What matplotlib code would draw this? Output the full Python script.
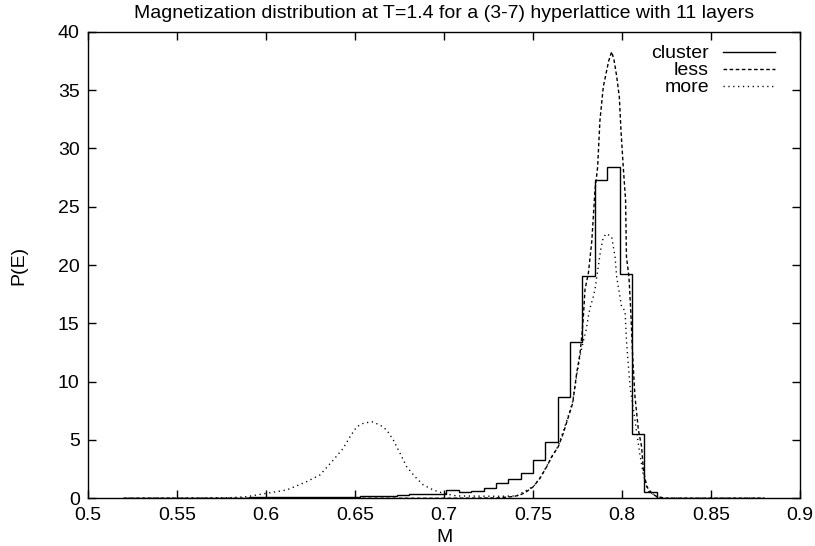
import matplotlib
matplotlib.use('Agg')
import matplotlib.pyplot as plt

plt.rcParams['font.family'] = ['Liberation Sans', 'DejaVu Sans']

# Cluster histogram: bin edges (k/144) and heights
cluster_edges = [0.52083, 0.52778, 0.53472, 0.54167, 0.54861, 0.55556, 0.56250, 0.56944,
                 0.57639, 0.58333, 0.59028, 0.59722, 0.60417, 0.61111, 0.61806, 0.62500,
                 0.63194, 0.63889, 0.64583, 0.65278, 0.65972, 0.66667, 0.67361, 0.68056,
                 0.68750, 0.69444, 0.70139, 0.70833, 0.71528, 0.72222, 0.72917, 0.73611,
                 0.74306, 0.75000, 0.75694, 0.76389, 0.77083, 0.77778, 0.78472, 0.79167,
                 0.79861, 0.80556, 0.81250, 0.81944, 0.88000]
cluster_vals = [0.01, 0.01, 0.02, 0.02, 0.03, 0.03, 0.04, 0.05, 0.05, 0.06, 0.07, 0.08,
                0.09, 0.10, 0.11, 0.12, 0.13, 0.14, 0.15, 0.17, 0.18, 0.20, 0.28, 0.37,
                0.37, 0.37, 0.71, 0.51, 0.60, 0.88, 1.32, 1.63, 2.14, 3.28, 4.86, 8.66,
                13.4, 19.1, 27.3, 28.4, 19.2, 5.49, 0.57, 0.0]

less_m = [0.52, 0.70, 0.73, 0.739, 0.7427, 0.7464, 0.7502, 0.7539, 0.7577, 0.7605, 0.7642,
          0.767, 0.7693, 0.7723, 0.7745, 0.7764, 0.7774, 0.7783, 0.7792, 0.7811, 0.783,
          0.7839, 0.7848, 0.7863, 0.7876, 0.7895, 0.7925, 0.7942, 0.7955, 0.797, 0.7985,
          0.7994, 0.8007, 0.802, 0.8025, 0.8039, 0.8048, 0.8054, 0.806, 0.8073, 0.8092,
          0.811, 0.812, 0.8139, 0.8167, 0.8195, 0.825, 0.88]
less_p = [0.0, 0.0, 0.03, 0.15, 0.28, 0.57, 1.0, 1.71, 2.71, 3.57, 4.43,
          5.57, 6.7, 8.15, 10.7, 12.4, 13.9, 15.6, 17.9, 19.3, 22.0,
          24.15, 26.4, 28.4, 32.4, 35.3, 37.5, 38.3, 37.6, 36.2, 34.4,
          31.6, 28.4, 25.6, 20.7, 19.0, 16.4, 14.4, 12.1, 8.7, 5.86,
          4.43, 2.43, 1.0, 0.43, 0.14, 0.0, 0.0]

more_m = [0.52, 0.56, 0.58, 0.5892, 0.6004, 0.6116, 0.6229, 0.6303, 0.6378, 0.6434, 0.6472,
          0.651, 0.6547, 0.6594, 0.664, 0.6678, 0.6715, 0.6753, 0.679, 0.6837, 0.6884,
          0.694, 0.6996, 0.7071, 0.73, 0.7408, 0.7483, 0.7502, 0.7539, 0.7577, 0.7642,
          0.7693, 0.7723, 0.7745, 0.7764, 0.7783, 0.7798, 0.7811, 0.782, 0.7839, 0.7848,
          0.7867, 0.788, 0.7895, 0.7914, 0.7942, 0.7961, 0.797, 0.7998, 0.8017, 0.8026,
          0.8045, 0.807, 0.8098, 0.812, 0.815, 0.82, 0.825, 0.88]
more_p = [0.0, 0.02, 0.05, 0.14, 0.43, 0.71, 1.43, 2.0, 3.28, 4.29, 5.28,
          6.14, 6.43, 6.57, 6.29, 5.86, 5.0, 3.86, 2.71, 1.85, 1.14,
          0.71, 0.43, 0.2, 0.17, 0.2, 0.86, 1.0, 1.75, 2.75, 4.5,
          6.8, 8.3, 10.5, 12.2, 13.5, 14.4, 15.6, 16.3, 17.3, 17.9,
          19.9, 21.3, 22.4, 22.7, 22.4, 20.7, 19.0, 16.4, 16.1, 13.3,
          9.6, 7.0, 4.0, 2.0, 0.6, 0.1, 0.0, 0.0]

x_ticks = [0.5, 0.55, 0.6, 0.65, 0.7, 0.75, 0.8, 0.85, 0.9]
y_ticks = [0, 5, 10, 15, 20, 25, 30, 35, 40]

fig = plt.figure(figsize=(8.15, 5.46), dpi=100)
ax = fig.add_axes([0.108, 0.0874, 0.8736, 0.8542])

ax.stairs(cluster_vals, cluster_edges, color='black', lw=1.0, label='cluster')
ax.plot(less_m, less_p, color='black', lw=1.0, dashes=(2.6, 1.8), label='less')
ax.plot(more_m, more_p, color='black', lw=1.0, dashes=(0.9, 2.6), label='more')

ax.set_xlim(0.5, 0.9)
ax.set_ylim(0, 40)
ax.set_xticks(x_ticks)
ax.set_xticklabels([f'{t:g}' for t in x_ticks])
ax.set_yticks(y_ticks)
ax.tick_params(direction='in', length=6, width=1, top=True, right=True,
               labelsize=14, pad=6)
for s in ax.spines.values():
    s.set_linewidth(1.0)

ax.set_xlabel('M', fontsize=14, labelpad=4)
ax.set_ylabel('P(E)', fontsize=14, labelpad=22)
ax.set_title('Magnetization distribution at T=1.4 for a (3-7) hyperlattice with 11 layers',
             fontsize=14, pad=10)

leg = ax.legend(loc='upper right', frameon=False, fontsize=14, markerfirst=False,
                handlelength=2.7, handletextpad=0.7, labelspacing=0.0,
                borderaxespad=0.0, bbox_to_anchor=(0.976, 0.9876))
# right-align legend labels
for vp in leg._legend_box._children[1]._children:
    for c in vp._children:
        c.align = 'right'
leg._legend_box._children[1].align = 'right'
for t in leg.get_texts():
    t.set_ha('right')

fig.savefig('out.png', dpi=100)
